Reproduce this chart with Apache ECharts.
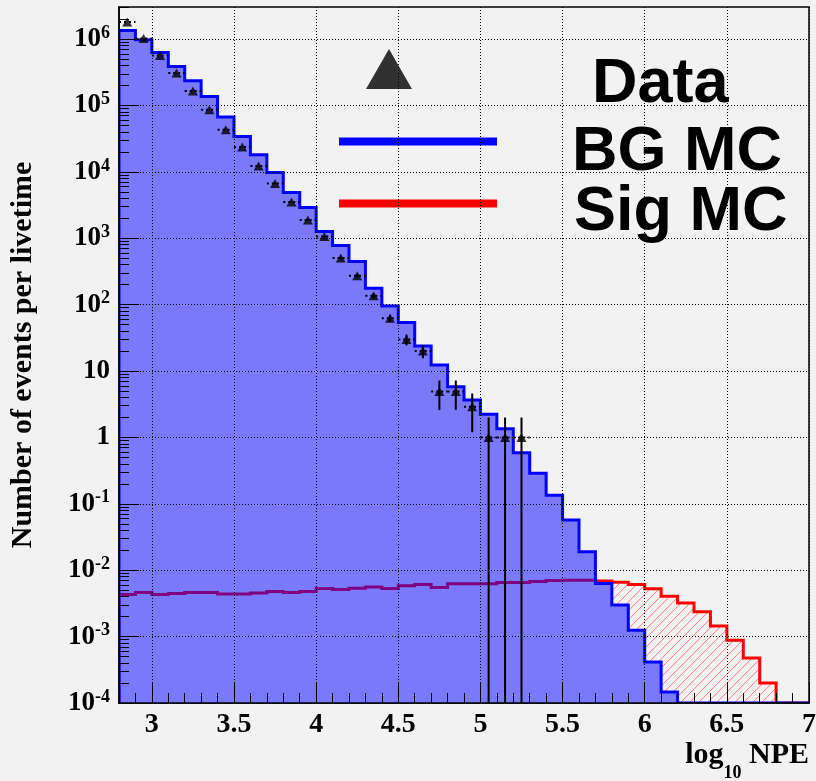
<!DOCTYPE html>
<html><head><meta charset="utf-8">
<script src="https://cdn.jsdelivr.net/npm/echarts@6/dist/echarts.min.js"></script>
<style>html,body{margin:0;padding:0;background:#f2f2f2}#c{width:816px;height:781px}</style>
</head><body><div id="c"></div>
<script>
// ---- data ----
const binEdges = [2.8,2.9,3.0,3.1,3.2,3.3,3.4,3.5,3.6,3.7,3.8,3.9,4.0,4.1,4.2,4.3,4.4,4.5,4.6,4.7,4.8,4.9,
  5.0,5.1,5.2,5.3,5.4,5.5,5.6,5.7,5.8,5.9,6.0,6.1,6.2,6.3,6.4,6.5,6.6,6.7,6.8,6.9,7.0];
const bgMC = [1.34e6,9.8e5,6.3e5,3.87e5,2.36e5,1.37e5,6.7e4,3.41e4,1.81e4,9.8e3,4.88e3,2.9e3,1.26e3,780,
  445,177,95.6,53.6,23.9,12.3,5.8,3.66,2.23,1.35,0.588,0.288,0.135,0.0569,0.0189,6.3e-3,2.98e-3,1.25e-3,
  4.16e-4,1.47e-4,0,0,0,0,0,0,0,0];
const sigMC = [4.31e-3,4.62e-3,4.31e-3,4.47e-3,4.62e-3,4.62e-3,4.40e-3,4.40e-3,4.55e-3,4.79e-3,4.62e-3,4.79e-3,
  5.31e-3,5.13e-3,5.37e-3,5.61e-3,5.31e-3,5.81e-3,6.1e-3,5.5e-3,6.23e-3,6.23e-3,6.23e-3,6.54e-3,6.54e-3,
  6.77e-3,7.0e-3,7.09e-3,7.09e-3,6.9e-3,6.6e-3,6.1e-3,5.25e-3,4.06e-3,3.2e-3,2.36e-3,1.44e-3,8.8e-4,
  4.78e-4,2.0e-4,0,0];
const dataX = [2.85,2.95,3.05,3.15,3.25,3.35,3.45,3.55,3.65,3.75,3.85,3.95,4.05,4.15,4.25,4.35,4.45,4.55,
  4.65,4.75,4.85,4.95,5.05,5.15,5.25];
const dataY = [1.8e6,1.02e6,5.65e5,3.08e5,1.65e5,8.6e4,4.3e4,2.36e4,1.22e4,6.65e3,3.5e3,1.89e3,1.06e3,503,
  273,136,62.4,29.9,20.1,4.9,4.9,2.9,1,1,1];
const dataErr = [1340,1010,750,555,406,293,207,154,110,81,59,43,33,22,16.5,11.7,7.9,5.5,4.5,2.3,2.3,1.7,1,1,1];
const xTickValues = [3,3.5,4,4.5,5,5.5,6,6.5,7];
const xTickLabels = ['3','3.5','4','4.5','5','5.5','6','6.5','7'];
const yTickValues = [1e-4,1e-3,1e-2,1e-1,1,10,1e2,1e3,1e4,1e5,1e6];
const yTickLabels = ['10^-4','10^-3','10^-2','10^-1','1','10','10^2','10^3','10^4','10^5','10^6'];
const xAxisMin = 2.8, xAxisMax = 7, yAxisMin = 1e-4, yAxisMax = 3.04e6;
const seriesNames = ['Data','BG MC','Sig MC'];
const xTitle = 'log{sub|10} NPE';
const yTitle = 'Number of events per livetime';

// ---- styles ----
const BG = '#f2f2f2';
const SERIF = 'Liberation Serif';
const SANS = 'Liberation Sans';
const HATCH_STEP = 9;

const yMinorTicks = [];
for (let k = -4; k <= 6; k++) for (let m = 2; m <= 9; m++) { const v = m * Math.pow(10, k); if (v < yAxisMax) yMinorTicks.push(v); }

function histData(vals) { return vals.map((v, i) => [binEdges[i], binEdges[i + 1], v]); }

// hatch segments ("/" lines) restricted to the region under a step outline
function hatchSegments(bins, bottom, xStart, xEnd, step) {
  const segs = [];
  const H = bins.reduce((m, b) => Math.max(m, bottom - b[2]), 0);
  for (let s = xStart - H; s < xEnd; s += step) {
    let cur = null;
    for (const b of bins) {
      const xa = Math.max(b[0], s), xb = Math.min(b[1], s + bottom - b[2]);
      if (xb > xa + 0.01) {
        if (cur && Math.abs(cur[1] - xa) < 0.01) cur[1] = xb;
        else { if (cur) segs.push(cur); cur = [xa, xb, s]; }
      }
    }
    if (cur) segs.push(cur);
  }
  return segs.map(g => ({ type: 'polyline', z2: 1, silent: true,
    shape: { points: [[g[0], bottom - (g[0] - g[2])], [g[1], bottom - (g[1] - g[2])]] },
    style: { stroke: '#ff7a7a', lineWidth: 1, fill: null } }));
}

function histRender(kind) {
  return function (params, api) {
    if (params.dataIndexInside !== 0) return null;
    const cs = params.coordSys;
    const top = cs.y, bottom = cs.y + cs.height;
    const n = params.dataInsideLength;
    const yPix = v => {
      if (!(v > 0)) return bottom;
      const p = api.coord([xAxisMin, v])[1];
      return Math.max(top, Math.min(bottom, p));
    };
    const pts = [], bins = [];
    const x0 = api.coord([api.value(0, 0), 1])[0];
    pts.push([x0, bottom]);
    let xr = x0;
    for (let i = 0; i < n; i++) {
      const xl = api.coord([api.value(0, i), 1])[0];
      xr = api.coord([api.value(1, i), 1])[0];
      const y = yPix(api.value(2, i));
      pts.push([xl, y], [xr, y]);
      if (y < bottom) bins.push([xl, xr, y]);
    }
    pts.push([xr, bottom]);
    if (kind === 'bg') {
      return { type: 'group', children: [
        { type: 'polygon', z2: 5, shape: { points: pts }, style: { fill: BG } },
        { type: 'polygon', z2: 20, shape: { points: pts }, style: { fill: 'rgba(0,0,255,0.5)' } },
        { type: 'polyline', z2: 30, shape: { points: pts }, style: { stroke: '#0000ff', lineWidth: 3, fill: null } }
      ]};
    }
    const children = hatchSegments(bins, bottom, x0, xr, HATCH_STEP);
    children.push({ type: 'polyline', z2: 10, shape: { points: pts }, style: { stroke: '#ff0000', lineWidth: 3, fill: null } });
    return { type: 'group', children: children };
  };
}

function errRender(params, api) {
  const cs = params.coordSys; const bottom = cs.y + cs.height;
  const x = api.value(0), y = api.value(1), e = api.value(2), xl = api.value(3), xr = api.value(4);
  const c = api.coord([x, y]);
  const hi = api.coord([x, y + e])[1];
  const lo = (y - e) > 0 ? Math.min(bottom, api.coord([x, y - e])[1]) : bottom;
  const l = api.coord([xl, y])[0], r = api.coord([xr, y])[0];
  return { type: 'group', children: [
    { type: 'line', shape: { x1: c[0], y1: hi, x2: c[0], y2: lo }, style: { stroke: '#000', lineWidth: 2 } },
    { type: 'line', shape: { x1: l, y1: c[1], x2: r, y2: c[1] }, style: { stroke: '#000', lineWidth: 2, lineDash: [2, 3] } }
  ]};
}

function yLabel(v) {
  let best = 0, bd = 1e9;
  yTickValues.forEach((t, i) => { const d = Math.abs(Math.log10(v) - Math.log10(t)); if (d < bd) { bd = d; best = i; } });
  const s = yTickLabels[best].split('^');
  return s.length > 1 ? '{b|' + s[0] + '}{s|' + s[1] + '}' : '{b|' + s[0] + '}';
}
function xLabel(v) {
  let best = 0, bd = 1e9;
  xTickValues.forEach((t, i) => { const d = Math.abs(v - t); if (d < bd) { bd = d; best = i; } });
  return xTickLabels[best];
}

const gridPos = { left: 119, right: 7, top: 7, bottom: 78, outerBoundsMode: 'none', containLabel: false };
const dotted = { color: '#000', type: [1, 2], width: 1 };

// legend: text shifted down (relative to its icon) by an invisible spacer line
function legendCfg(idx, icon, color, left, top, iconW, iconH, shift, padLeft) {
  return {
    data: [{ name: seriesNames[idx], icon: icon, itemStyle: { color: color } }],
    selectedMode: false, padding: 0, left: left, top: top,
    itemWidth: iconW, itemHeight: iconH,
    formatter: name => '{sp| }\n{t|' + name + '}',
    textStyle: { padding: [0, 0, 0, padLeft],
      rich: { sp: { fontSize: 1, lineHeight: 2 * shift },
              t: { fontFamily: SANS, fontWeight: 'bold', fontSize: 63, lineHeight: 62, color: '#000' } } }
  };
}

const option = {
  backgroundColor: BG,
  animation: false,
  grid: [
    Object.assign({ show: true, borderColor: '#000', borderWidth: 1.5, backgroundColor: 'transparent' }, gridPos),
    Object.assign({ show: false }, gridPos)
  ],
  legend: [
    legendCfg(0, 'triangle', '#000', 366, 37.5, 46, 40, 16, 175),
    legendCfg(1, 'rect', '#0000ff', 339, 110, 158, 8, 11, 70),
    legendCfg(2, 'rect', '#ff0000', 339, 172, 158, 8, 9.5, 72)
  ],
  xAxis: [
    { type: 'value', gridIndex: 0, min: xAxisMin, max: xAxisMax, z: 10,
      axisLine: { show: true, onZero: false, lineStyle: { color: '#000', width: 1.5 } },
      axisTick: { show: true, inside: true, length: 20, customValues: xTickValues, lineStyle: { color: '#000', width: 1 } },
      axisLabel: { customValues: xTickValues, formatter: xLabel, fontFamily: SERIF, fontWeight: 'bold', fontSize: 28, color: '#000', margin: 8 },
      splitLine: { show: true, lineStyle: dotted },
      name: xTitle, nameLocation: 'end', nameGap: 0, nameMoveOverlap: false,
      nameTextStyle: { align: 'right', verticalAlign: 'top', padding: [37, 0, 0, 0],
        rich: { n: { fontFamily: SERIF, fontWeight: 'bold', fontSize: 30, lineHeight: 30, verticalAlign: 'top', color: '#000' },
                sub: { fontFamily: SERIF, fontWeight: 'bold', fontSize: 18, lineHeight: 18, padding: [24, 0, 0, 0], verticalAlign: 'top', color: '#000' } },
        fontFamily: SERIF, fontWeight: 'bold', fontSize: 30, lineHeight: 30, color: '#000' } },
    { type: 'value', gridIndex: 1, min: xAxisMin, max: xAxisMax, interval: 0.1, z: 10,
      axisLine: { show: false }, axisTick: { show: true, inside: true, length: 10, lineStyle: { color: '#000', width: 1 } },
      axisLabel: { show: false }, splitLine: { show: false } }
  ],
  yAxis: [
    { type: 'log', logBase: 10, gridIndex: 0, min: yAxisMin, max: yAxisMax, z: 10,
      axisLine: { show: true, onZero: false, lineStyle: { color: '#000', width: 1.5 } },
      axisTick: { show: true, inside: true, length: 20, customValues: yTickValues, lineStyle: { color: '#000', width: 1 } },
      axisLabel: { customValues: yTickValues, formatter: yLabel, margin: 9,
        rich: { b: { fontFamily: SERIF, fontWeight: 'bold', fontSize: 27, lineHeight: 30, color: '#000' },
                s: { fontFamily: SERIF, fontWeight: 'bold', fontSize: 18, lineHeight: 18, verticalAlign: 'top', color: '#000' } } },
      splitLine: { show: true, lineStyle: dotted },
      name: yTitle, nameLocation: 'middle', nameGap: 81,
      nameTextStyle: { fontFamily: SERIF, fontWeight: 'bold', fontSize: 30, color: '#000' } },
    { type: 'log', logBase: 10, gridIndex: 1, min: yAxisMin, max: yAxisMax, z: 10,
      axisLine: { show: false },
      axisTick: { show: true, inside: true, length: 10, customValues: yMinorTicks, lineStyle: { color: '#000', width: 1 } },
      axisLabel: { show: false }, splitLine: { show: false } }
  ],
  series: [
    { name: seriesNames[2], type: 'custom', xAxisIndex: 0, yAxisIndex: 0, z: 2, clip: true,
      encode: { x: [0, 1], y: 2 }, data: histData(sigMC), renderItem: histRender('sig') },
    { name: seriesNames[1], type: 'custom', xAxisIndex: 0, yAxisIndex: 0, z: 2, clip: true,
      encode: { x: [0, 1], y: 2 }, data: histData(bgMC), renderItem: histRender('bg') },
    { name: 'DataErr', type: 'custom', xAxisIndex: 0, yAxisIndex: 0, z: 12,
      encode: { x: 0, y: 1 }, data: dataX.map((x, i) => [x, dataY[i], dataErr[i], binEdges[i], binEdges[i + 1]]),
      renderItem: errRender },
    { name: seriesNames[0], type: 'scatter', xAxisIndex: 0, yAxisIndex: 0, z: 13,
      symbol: 'triangle', symbolSize: [10, 9], itemStyle: { color: '#000' },
      data: dataX.map((x, i) => [x, dataY[i]]) }
  ]
};
const chart = echarts.init(document.getElementById('c'), null, { renderer: 'canvas' });
chart.setOption(option);
</script></body></html>
